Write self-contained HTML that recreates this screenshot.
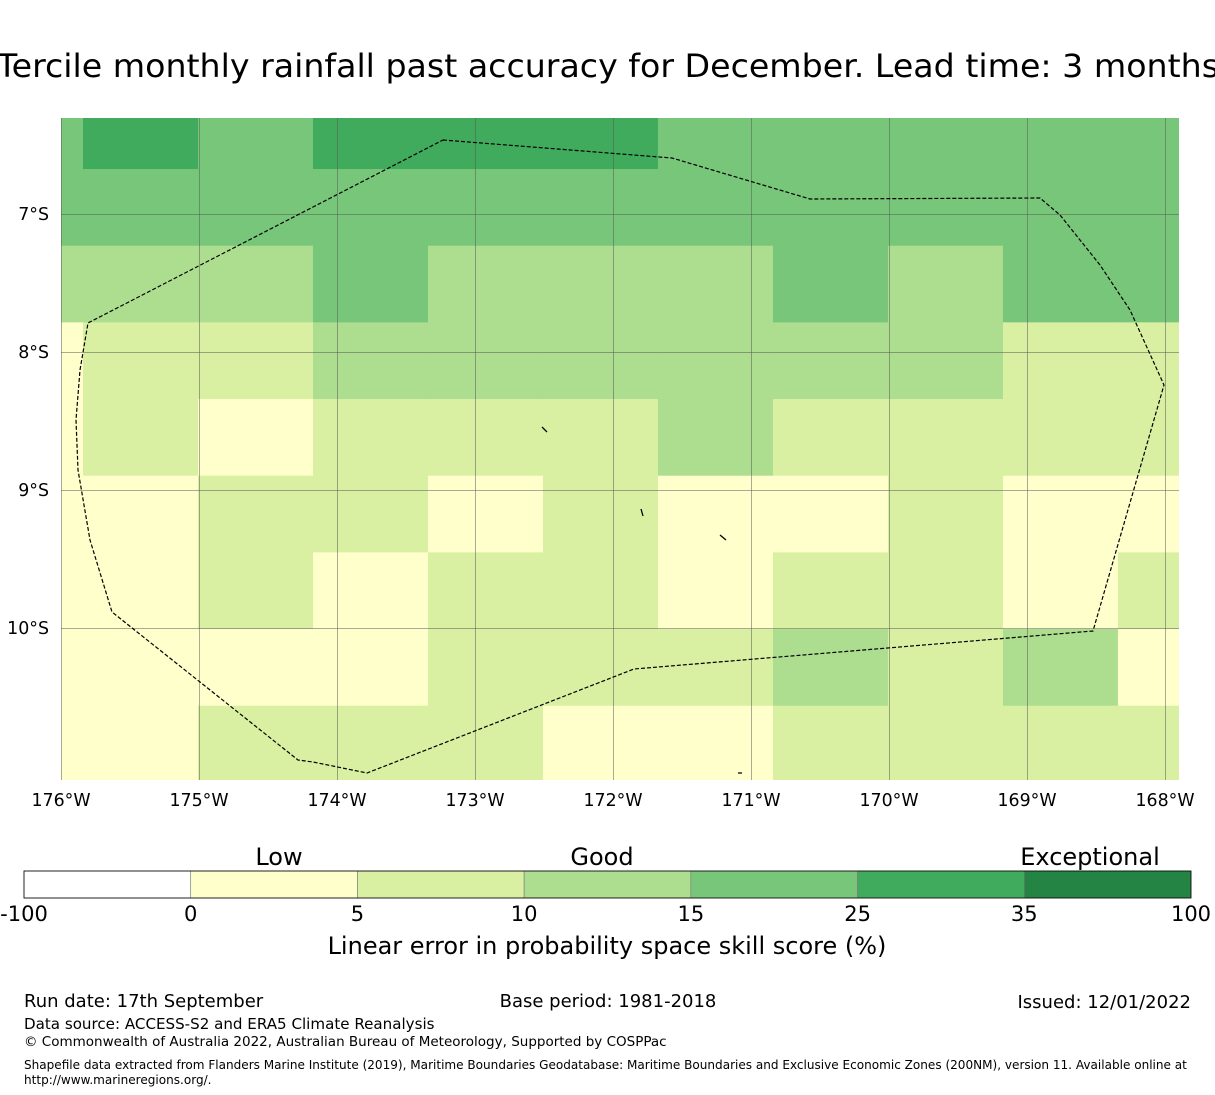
<!DOCTYPE html>
<html><head><meta charset="utf-8"><style>
html,body{margin:0;padding:0;background:#fff}
svg{display:block;font-family:"DejaVu Sans","Liberation Sans",sans-serif}
</style></head><body>
<svg id="chart" width="1215" height="1095" viewBox="0 0 1215 1095" xmlns="http://www.w3.org/2000/svg">
<text x="-3" y="77" font-size="32" textLength="1222" lengthAdjust="spacingAndGlyphs">Tercile monthly rainfall past accuracy for December. Lead time: 3 months</text>
<g id="map"></g>
<g id="cbar"></g>
<text x="279" y="865" font-size="24" text-anchor="middle">Low</text>
<text x="602" y="865" font-size="24" text-anchor="middle">Good</text>
<text x="1090" y="865" font-size="24" text-anchor="middle">Exceptional</text>
<text x="607" y="954" font-size="24" text-anchor="middle">Linear error in probability space skill score (%)</text>
<text x="24" y="1007" font-size="18">Run date: 17th September</text>
<text x="608" y="1007" font-size="18" text-anchor="middle">Base period: 1981-2018</text>
<text x="1191" y="1008" font-size="18" text-anchor="end">Issued: 12/01/2022</text>
<text x="24" y="1029" font-size="15.1">Data source: ACCESS-S2 and ERA5 Climate Reanalysis</text>
<text x="24" y="1046" font-size="13.5">© Commonwealth of Australia 2022, Australian Bureau of Meteorology, Supported by COSPPac</text>
<text x="24" y="1069" font-size="12.06">Shapefile data extracted from Flanders Marine Institute (2019), Maritime Boundaries Geodatabase: Maritime Boundaries and Exclusive Economic Zones (200NM), version 11. Available online at</text>
<text x="24" y="1084" font-size="12.06">http://www.marineregions.org/.</text>
</svg>
<script>
// ---- data ----
const lonTicks = [-176,-175,-174,-173,-172,-171,-170,-169,-168];
const lonTickLabels = ["176°W","175°W","174°W","173°W","172°W","171°W","170°W","169°W","168°W"];
const latTicks = [-7,-8,-9,-10];
const latTickLabels = ["7°S","8°S","9°S","10°S"];
const cellLon0 = -176.0 - 0.8333 + 22/138; // first (partial) column west edge
const cellLat0 = -6.674 + 0.5556;          // first (partial) row north edge
const cellDLon = 0.8333;
const cellDLat = 0.5556;
// skill score (%) per cell, rows north->south, columns west->east
const skill = [
 [20,30,20,30,30,30,20,20,20,20,20],
 [20,20,20,20,20,20,20,20,20,20,20],
 [12,12,12,20,12,12,12,20,12,20,20],
 [2,7,7,12,12,12,12,12,12,7,7],
 [2,7,2,7,7,7,12,7,7,7,7],
 [2,2,7,7,2,7,2,2,7,2,2],
 [2,2,7,2,7,7,2,7,7,2,7],
 [2,2,2,2,7,7,7,12,7,12,2],
 [2,2,7,7,7,2,2,7,7,7,7]
];
const cbBounds = [-100,0,5,10,15,25,35,100];
const cbColors = ["#ffffff","#ffffcc","#d9f0a3","#addd8e","#78c679","#41ab5d","#238443"];

// ---- axes ----
const NS="http://www.w3.org/2000/svg";
const MX0=61,MX1=1179,MY0=118,MY1=780;
const xOf = lon => 61 + (lon+176)*138;
const yOf = lat => 214 + (-7-lat)*138;
function mk(tag,attrs,parent){const e=document.createElementNS(NS,tag);for(const k in attrs)e.setAttribute(k,attrs[k]);parent.appendChild(e);return e;}
function colorOf(v){for(let i=cbBounds.length-2;i>=0;i--){if(v>=cbBounds[i])return cbColors[i];}return cbColors[0];}

const map=document.getElementById('map');
const defs=mk('defs',{},map);
const cp=mk('clipPath',{id:'mclip'},defs);
mk('rect',{x:MX0,y:MY0,width:MX1-MX0,height:MY1-MY0},cp);
const cells=mk('g',{'clip-path':'url(#mclip)'},map);
skill.forEach((row,r)=>row.forEach((v,c)=>{
  const lw=cellLon0+c*cellDLon, ln=cellLat0-r*cellDLat;
  const x0=xOf(lw), x1=xOf(lw+cellDLon), y0=yOf(ln), y1=yOf(ln-cellDLat);
  const el=mk('rect',{x:x0,y:y0,width:x1-x0+0.5,height:y1-y0+0.5,fill:colorOf(v)},cells);
  
  
}));
// gridlines
lonTicks.forEach(l=>{const g=mk('line',{x1:xOf(l),x2:xOf(l),y1:MY0,y2:MY1,stroke:'#555','stroke-width':0.5,'shape-rendering':'crispEdges'},map);
  });
latTicks.forEach(l=>{const g=mk('line',{x1:MX0,x2:MX1,y1:yOf(l),y2:yOf(l),stroke:'#555','stroke-width':0.5,'shape-rendering':'crispEdges'},map);
  });
// EEZ boundary
const eez=mk('path',{d:'M443,140 L672,158 L810,199 L1040,198 L1060,215 L1100,265 L1130,310 L1164,385 L1093,631 L634,669 L367,773 L313,762 L298,760 L112,612 L90,540 L78,470 L76,420 L80,370 L88,323 Z',fill:'none',stroke:'#000','stroke-width':1.2,'stroke-dasharray':'4,2'},map);

const isl=mk('path',{d:'M542,427 L547,432 M641,509 L643,516 M720,535 L726,540 M738,773 L742,773',stroke:'#000','stroke-width':1.3,fill:'none'},map);

// tick labels
lonTicks.forEach((l,i)=>{const t=mk('text',{x:xOf(l),y:806,'font-size':17.4,'text-anchor':'middle'},map);t.textContent=lonTickLabels[i];
  });
latTicks.forEach((l,i)=>{const t=mk('text',{x:49,y:yOf(l)+6,'font-size':17.4,'text-anchor':'end'},map);t.textContent=latTickLabels[i];
  });

// colorbar
const cb=document.getElementById('cbar');
const CX0=24,CX1=1191,CY0=871,CY1=898,n=cbColors.length,w=(CX1-CX0)/n;
cbColors.forEach((c,i)=>{const r=mk('rect',{x:CX0+i*w,y:CY0,width:w,height:CY1-CY0,fill:c,stroke:'#777','stroke-width':0.6},cb);
  });
mk('rect',{x:CX0,y:CY0,width:CX1-CX0,height:CY1-CY0,fill:'none',stroke:'#000','stroke-width':0.8},cb);
cbBounds.forEach((b,i)=>{const t=mk('text',{x:CX0+i*w,y:921,'font-size':21,'text-anchor':'middle'},cb);t.textContent=b;
  });
</script>
</body></html>
